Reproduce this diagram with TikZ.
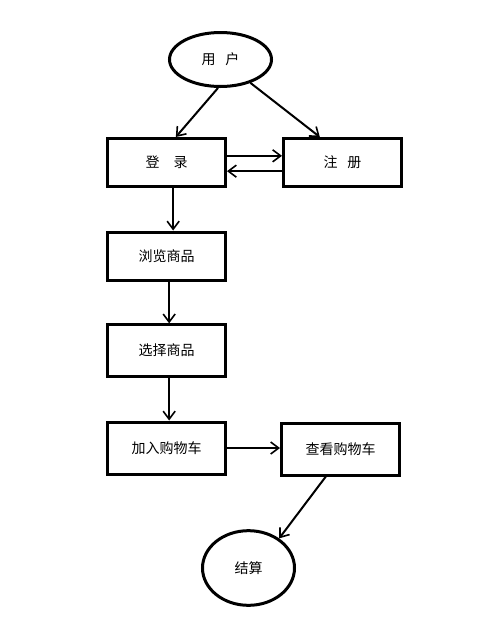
\documentclass[tikz,border=0pt]{standalone}
\usepackage{fontspec}
\setmainfont{Noto Sans CJK SC}
\usetikzlibrary{shapes.geometric}
\usetikzlibrary{arrows.meta}
\usetikzlibrary{positioning}

\begin{document}
\begin{tikzpicture}[x=0.75pt,y=-0.75pt,
  every node/.style={font=\fontsize{10.5}{12}\selectfont,inner sep=0pt},
  box/.style={draw,line width=2.25pt,minimum width=88.5pt,minimum height=36pt},
  oval/.style={ellipse,draw,line width=2.25pt},
  flow/.style={-{Straight Barb[length=6pt,width=9pt,line width=1.2pt]},line width=1.5pt}]
\useasboundingbox (0,0) rectangle (497,629);
\node[oval,minimum width=76.5pt,minimum height=40.5pt] (user) at (220.5,59.5) {用\hspace{0.7em}户};
\node[box] (login) at (166.5,162.5) {登\hspace{1em}录};
\node[box] (register) at (342.5,162.5) {注\hspace{0.7em}册};
\node[box] (browse) at (166.5,256) {浏览商品};
\node[box,minimum height=38.5pt] (select) at (166.5,350.5) {选择商品};
\node[box,minimum height=39pt] (add) at (166.5,448) {加入购物车};
\node[box,minimum height=39pt] (view) at (340.5,449) {查看购物车};
\node[oval,minimum width=69pt,minimum height=56pt] (settle) at (248.5,568) {结算};
% arrows
\draw[flow] (user.265) -- ([xshift=7pt]login.north);
\draw[flow] (user.-38) -- ([xshift=-17pt]register.north);
\draw[flow] ([yshift=5pt]login.east) -- ([yshift=5pt]register.west);
\draw[flow] ([yshift=-6.5pt]register.west) -- ([yshift=-6.5pt]login.east);
\draw[flow] ([xshift=5pt]login.south) -- ([xshift=5pt]browse.north);
\draw[flow] ([xshift=2pt]browse.south) -- ([xshift=2pt]select.north);
\draw[flow] ([xshift=2pt]select.south) -- ([xshift=2pt]add.north);
\draw[flow] (add.east) -- (add.east -| view.west);
\draw[flow] ([xshift=-11pt]view.south) -- (settle.44);
\end{tikzpicture}
\end{document}
